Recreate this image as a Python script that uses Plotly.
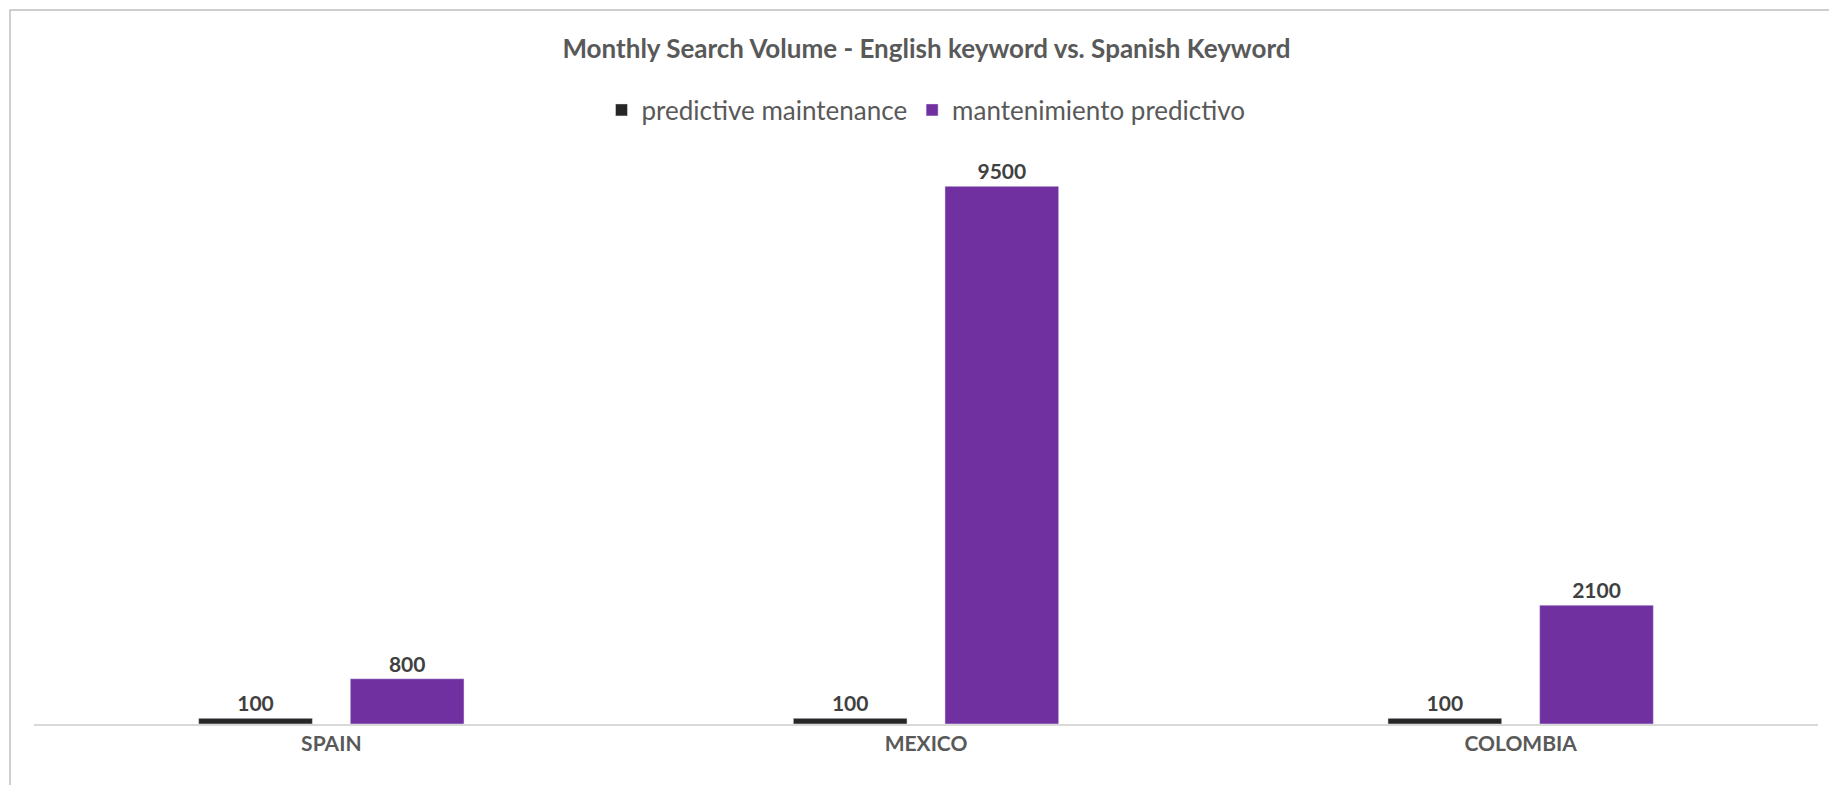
import plotly.graph_objects as go

countries = ["SPAIN", "MEXICO", "COLOMBIA"]
english = [100, 100, 100]
spanish = [800, 9500, 2100]

W, H = 1837, 785
ml, mr, mt, mb = 26, 27, 150, 69
pw, ph = W - ml - mr, H - mt - mb
font = "Lato, Open Sans, sans-serif"
fig = go.Figure()
fig.add_bar(x=countries, y=english, name="predictive maintenance", marker_color="#262626",
            text=english, textposition="outside", cliponaxis=False,
            textfont=dict(size=21, color="#404040", family=font, weight="bold"))
fig.add_bar(x=countries, y=spanish, name="mantenimiento predictivo", marker_color="#7030A0",
            text=spanish, textposition="outside", cliponaxis=False,
            textfont=dict(size=21, color="#404040", family=font, weight="bold"))
fig.update_layout(
    width=W, height=H, margin=dict(l=ml, r=mr, t=mt, b=mb),
    paper_bgcolor="white", plot_bgcolor="white",
    barmode="group", bargap=0.49, bargroupgap=0.25,
    title=dict(text="<b>Monthly Search Volume - English keyword vs. Spanish Keyword</b>",
               x=0.5, y=1 - 41 / H, yanchor="middle",
               font=dict(size=26, color="#595959", family=font)),
    legend=dict(orientation="h", x=0.5, xanchor="center", y=1 + (mt - 102) / ph, yanchor="middle",
                font=dict(size=26, color="#595959", family=font), itemwidth=30),
    xaxis=dict(showline=True, linecolor="#D9D9D9", linewidth=1.5, ticks="",
               tickfont=dict(size=21, color="#595959", family=font, weight="bold")),
    yaxis=dict(range=[0, 10000], visible=False),
    showlegend=True,
)
fig.add_shape(type="rect", xref="paper", yref="paper",
              x0=-(ml - 2) / pw, x1=1 + (mr - 2) / pw, y0=-(mb - 2) / ph, y1=1 + (mt - 2) / ph,
              line=dict(color="#BFBFBF", width=1.5))
fig.write_html("out.html")
